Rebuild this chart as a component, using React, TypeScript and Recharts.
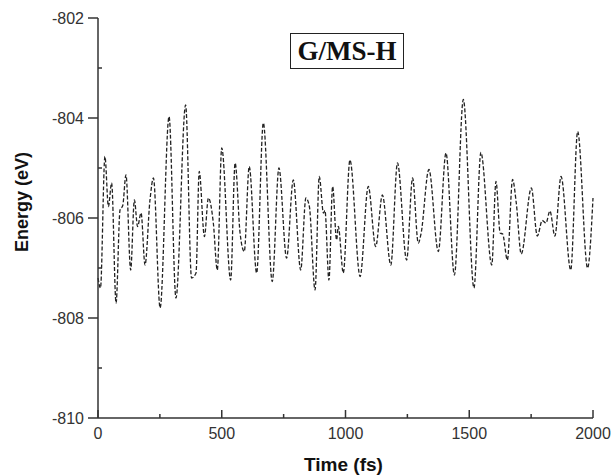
import React from "react"
import { LineChart, Line, XAxis, YAxis } from "recharts"

// time (fs) and total energy (eV) (extrema plus a few shoulders)
const times = [
  0, 10, 28, 42, 55, 73, 89, 100, 113, 132, 147, 160, 174, 190, 210, 224, 251, 287, 315, 354,
  378, 396, 409, 430, 446, 466, 482, 500, 536, 554, 574, 591, 611, 641, 668, 704, 731, 762, 789, 819,
  840, 854, 877, 894, 911, 917, 933, 948, 964, 971, 991, 1018, 1059, 1092, 1122, 1149, 1183, 1210, 1247, 1271,
  1294, 1305, 1337, 1375, 1406, 1440, 1476, 1519, 1547, 1591, 1608, 1625, 1635, 1654, 1675, 1690, 1710, 1751, 1775, 1795,
  1810, 1826, 1846, 1871, 1910, 1938, 1978, 2000,
]
const energy = [
  -807.2, -807.4, -804.77, -805.77, -805.3, -807.7, -805.84, -805.75, -805.14, -807.04, -805.64, -806.17, -805.9, -806.94, -805.64, -805.2, -807.8, -803.97, -807.6, -803.74,
  -807.2, -807.1, -805.07, -806.37, -805.6, -806.1, -807.04, -804.6, -807.24, -804.9, -806.3, -806.67, -804.97, -807.1, -804.1, -807.27, -805.0, -806.8, -805.24, -807.04,
  -805.6, -805.77, -807.44, -805.17, -805.9, -805.85, -807.24, -805.37, -806.44, -806.17, -807.1, -804.84, -807.17, -805.37, -806.57, -805.54, -806.94, -804.9, -806.84, -805.2,
  -806.5, -806.32, -805.03, -806.67, -804.7, -807.14, -803.63, -807.4, -804.69, -806.94, -805.27, -806.3, -806.32, -806.84, -805.23, -805.7, -806.72, -805.4, -806.36, -806.05,
  -806.1, -805.86, -806.36, -805.17, -807.04, -804.27, -807.0, -805.6,
]
const xTicks = [0, 250, 500, 750, 1000, 1250, 1500, 1750, 2000]
const yTicks = [-810, -809, -808, -807, -806, -805, -804, -803, -802]

const data = times.map((t, i) => ({ t, e: energy[i] }))

const axisColor = "#333"
const tickFont = "Arial, 'Liberation Sans', sans-serif"

function BottomTick({ x, y, payload }: any) {
  const major = payload.value % 500 === 0
  return (
    <g>
      <line x1={x} x2={x} y1={y} y2={y - (major ? 8 : 4)} stroke={axisColor} strokeWidth={1.5} />
      {major && (
        <text x={x} y={y + 21} textAnchor="middle" fontSize={16} fontFamily={tickFont} fill="#333">
          {payload.value}
        </text>
      )}
    </g>
  )
}

function TopTick({ x, y, payload }: any) {
  const major = payload.value % 500 === 0
  return <line x1={x} x2={x} y1={y} y2={y + (major ? 8 : 5)} stroke={axisColor} strokeWidth={1.5} />
}

function LeftTick({ x, y, payload }: any) {
  const major = payload.value % 2 === 0
  if (!major) {
    return <line x1={x} x2={x + 4} y1={y} y2={y} stroke={axisColor} strokeWidth={1.5} />
  }
  return (
    <g>
      <line x1={x - 10} x2={x} y1={y} y2={y} stroke={axisColor} strokeWidth={1.5} />
      <text x={x - 14} y={y + 6} textAnchor="end" fontSize={16} fontFamily={tickFont} fill="#333">
        {payload.value}
      </text>
    </g>
  )
}

function YTitle({ viewBox }: any) {
  const cx = viewBox.x - 16
  const cy = viewBox.y + viewBox.height / 2 - 16
  return (
    <text
      x={cx}
      y={cy}
      transform={`rotate(-90 ${cx} ${cy})`}
      textAnchor="middle"
      dominantBaseline="central"
      fontSize={18}
      fontWeight="bold"
      fontFamily={tickFont}
      fill="#111"
    >
      Energy (eV)
    </text>
  )
}

function XTitle({ viewBox }: any) {
  return (
    <text
      x={viewBox.x + viewBox.width / 2 - 2}
      y={viewBox.y + 53}
      textAnchor="middle"
      fontSize={19}
      fontWeight="bold"
      fontFamily={tickFont}
      fill="#111"
    >
      Time (fs)
    </text>
  )
}

export default function App() {
  return (
    <div style={{ position: "absolute", left: 0, top: 0, width: 614, height: 476, background: "#fff" }}>
      <LineChart width={614} height={476} data={data} margin={{ top: 18, right: 21, bottom: 0, left: 38 }}>
        <XAxis
          dataKey="t"
          type="number"
          domain={[0, 2000]}
          ticks={xTicks}
          height={58}
          tickLine={false}
          tickSize={0}
          tickMargin={0}
          tick={<BottomTick />}
          axisLine={{ stroke: axisColor, strokeWidth: 1.5 }}
          label={{ content: XTitle }}
        />
        <XAxis
          xAxisId="top"
          orientation="top"
          dataKey="t"
          type="number"
          domain={[0, 2000]}
          ticks={xTicks}
          height={0}
          tickLine={false}
          tickSize={0}
          tickMargin={0}
          tick={<TopTick />}
          axisLine={{ stroke: axisColor, strokeWidth: 1.5 }}
        />
        <YAxis
          type="number"
          domain={[-810, -802]}
          ticks={yTicks}
          width={60}
          tickLine={false}
          tickSize={0}
          tickMargin={0}
          tick={<LeftTick />}
          axisLine={{ stroke: axisColor, strokeWidth: 1.5 }}
          label={{ content: YTitle }}
        />
        <YAxis
          yAxisId="right"
          orientation="right"
          type="number"
          domain={[-810, -802]}
          width={0}
          tick={false}
          tickLine={false}
          axisLine={{ stroke: axisColor, strokeWidth: 1.5 }}
        />
        <Line
          type="monotone"
          dataKey="e"
          stroke="#222"
          strokeWidth={1.3}
          strokeDasharray="4 2"
          dot={false}
          isAnimationActive={false}
        />
      </LineChart>
      <div
        style={{
          position: "absolute",
          left: 290,
          top: 33,
          width: 112,
          height: 34,
          border: "1px solid #222",
          fontFamily: "'Liberation Serif', 'Times New Roman', serif",
          fontWeight: "bold",
          fontSize: 27,
          lineHeight: "34px",
          textAlign: "center",
          color: "#111",
        }}
      >
        G/MS-H
      </div>
    </div>
  )
}
